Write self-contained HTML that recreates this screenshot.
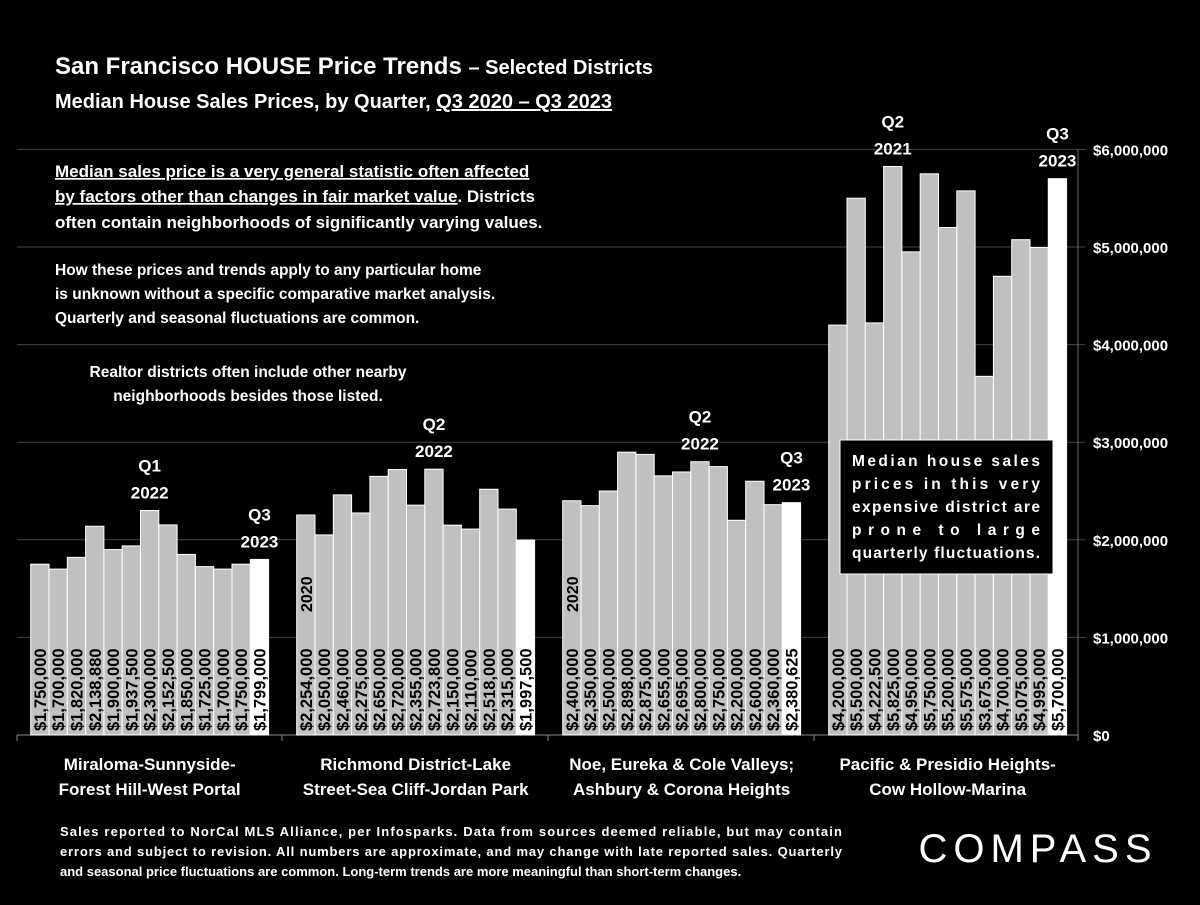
<!DOCTYPE html>
<html><head><meta charset="utf-8"><style>
body{margin:0;background:#000;width:1200px;height:900px;overflow:hidden;font-family:"Liberation Sans",sans-serif;color:#fff}
svg text{font-family:"Liberation Sans",sans-serif;font-weight:bold}
</style></head><body>
<svg width="1200" height="900">
<text x="55" y="74" font-size="24" fill="#fff">San Francisco HOUSE Price Trends <tspan font-size="20">– Selected Districts</tspan></text>
<text x="55" y="108" font-size="20" fill="#fff">Median House Sales Prices, by Quarter, <tspan text-decoration="underline">Q3 2020 – Q3 2023</tspan></text>
<g font-size="17" fill="#fff">
<text x="55" y="177"><tspan text-decoration="underline">Median sales price is a very general statistic often affected</tspan></text>
<text x="55" y="202"><tspan text-decoration="underline">by factors other than changes in fair market value</tspan>. Districts</text>
<text x="55" y="228">often contain neighborhoods of significantly varying values.</text>
</g>
<g font-size="15.5" fill="#fff">
<text x="55" y="275">How these prices and trends apply to any particular home</text>
<text x="55" y="299">is unknown without a specific comparative market analysis.</text>
<text x="55" y="323">Quarterly and seasonal fluctuations are common.</text>
</g>
<g font-size="15.5" fill="#fff" text-anchor="middle">
<text x="248" y="377">Realtor districts often include other nearby</text>
<text x="248" y="401">neighborhoods besides those listed.</text>
</g>
<g id="grid"></g><g id="bars"></g>
<g font-size="13" fill="#fff">
<text x="60" y="836" textLength="782">Sales reported to NorCal MLS Alliance, per Infosparks. Data from sources deemed reliable, but may contain</text>
<text x="60" y="856" textLength="782">errors and subject to revision. All numbers are approximate, and may change with late reported sales. Quarterly</text>
<text x="60" y="876">and seasonal price fluctuations are common. Long-term trends are more meaningful than short-term changes.</text>
</g>
<text x="1038" y="862" font-size="40" fill="#fff" text-anchor="middle" letter-spacing="6" style="font-weight:normal">COMPASS</text>
<g>
<rect x="840" y="440" width="213" height="134" fill="#000" stroke="#fff" stroke-width="1"/>
<g font-size="15.5" fill="#fff">
<text x="852" y="466" textLength="188">Median house sales</text>
<text x="852" y="489" textLength="188">prices in this very</text>
<text x="852" y="512" textLength="188">expensive district are</text>
<text x="852" y="535" textLength="188">prone to large</text>
<text x="852" y="558" textLength="188">quarterly fluctuations.</text>
</g></g>
</svg>
<script>
const categories=[["Miraloma-Sunnyside-","Forest Hill-West Portal"],["Richmond District-Lake","Street-Sea Cliff-Jordan Park"],["Noe, Eureka & Cole Valleys;","Ashbury & Corona Heights"],["Pacific & Presidio Heights-","Cow Hollow-Marina"]];
const miraloma=[1750000,1700000,1820000,2138880,1900000,1937500,2300000,2152500,1850000,1725000,1700000,1750000,1799000];
const richmond=[2254000,2050000,2460000,2275000,2650000,2720000,2355000,2723800,2150000,2110000,2518000,2315000,1997500];
const noe=[2400000,2350000,2500000,2898000,2875000,2655000,2695000,2800000,2750000,2200000,2600000,2360000,2380625];
const pacific=[4200000,5500000,4222500,5825000,4950000,5750000,5200000,5575000,3675000,4700000,5075000,4995000,5700000];
const yTicks=[0,1000000,2000000,3000000,4000000,5000000,6000000];
const series=[miraloma,richmond,noe,pacific];
const NS="http://www.w3.org/2000/svg";
const y=v=>735-v*97.6/1e6;
const gx=g=>30.7+g*266, bw=18.3;
function mk(t,a,p){const e=document.createElementNS(NS,t);for(const k in a)e.setAttribute(k,a[k]);p.appendChild(e);return e;}
const grid=document.getElementById('grid'),bars=document.getElementById('bars');
const fmt=v=>'$'+v.toLocaleString('en-US');
yTicks.forEach(v=>{
 if(v>0){const l=mk('line',{x1:17,x2:1085,y1:y(v),y2:y(v),stroke:'#444','stroke-width':1},grid);
 
 }
 const t=mk('text',{x:1093,y:y(v)+6,'font-size':15,fill:'#fff'},grid);t.textContent=v===0?'$0':fmt(v);
 
 
});
mk('line',{x1:1078,x2:1078,y1:149,y2:735,stroke:'#666'},grid);
mk('line',{x1:17,x2:1078,y1:735,y2:735,stroke:'#888'},grid);
[17,282,548,814,1078].forEach(x=>mk('line',{x1:x,x2:x,y1:735,y2:741,stroke:'#888'},grid));
series.forEach((s,g)=>{
 s.forEach((v,i)=>{
  const x=gx(g)+i*bw,last=i===s.length-1;
  const r=mk('rect',{x:x,y:y(v),width:bw,height:735-y(v),fill:last?'#fff':'#c0c0c0',stroke:'#fff','stroke-width':1},bars);
  
  
  const t=mk('text',{transform:`translate(${x+bw/2+6},731) rotate(-90)`,'font-size':16.5,fill:'#000'},bars);
  t.textContent=fmt(v);
  
  
 });
 const cx=gx(g)+6.5*bw;
 categories[g].forEach((ln,k)=>{const t=mk('text',{x:cx,y:770+k*25,'font-size':17,fill:'#fff','text-anchor':'middle'},bars);t.textContent=ln;
 
 });
});
function ann(g,i,lines){const s=series[g],x=gx(g)+i*bw+bw/2,top=y(s[i]);
 lines.forEach((ln,k)=>{const t=mk('text',{x:x,y:top-12-(lines.length-1-k)*27,'font-size':17,fill:'#fff','text-anchor':'middle'},bars);t.textContent=ln;
 
 });}
ann(0,6,["Q1","2022"]);ann(0,12,["Q3","2023"]);ann(1,7,["Q2","2022"]);ann(2,7,["Q2","2022"]);ann(2,12,["Q3","2023"]);ann(3,3,["Q2","2021"]);ann(3,12,["Q3","2023"]);
[1,2].forEach(g=>{const x=gx(g)+bw/2+6;const t=mk('text',{transform:`translate(${x},612) rotate(-90)`,'font-size':16,fill:'#000'},bars);t.textContent='2020';
 
 });
</script>
</body></html>
